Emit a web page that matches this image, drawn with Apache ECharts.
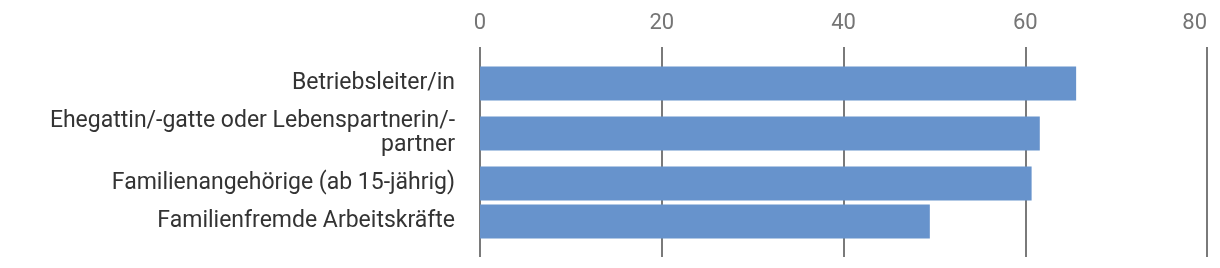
<!DOCTYPE html>
<html>
<head>
<meta charset="utf-8">
<script src="https://cdn.jsdelivr.net/npm/echarts@6/dist/echarts.min.js"></script>
<style>
html,body{margin:0;padding:0;background:#fff;}
#chart{width:1220px;height:268px;}
</style>
</head>
<body>
<div id="chart"></div>
<script>
// ---- data ----
const categories = [
  'Betriebsleiter/in',
  'Ehegattin/-gatte oder Lebenspartnerin/-\npartner',
  'Familienangehörige (ab 15-jährig)',
  'Familienfremde Arbeitskräfte'
];
const values = [65.6, 61.6, 60.7, 49.5];
const xTicks = [0, 20, 40, 60, 80];

// ---- layout: rows sized by the number of label lines (1 slot = 1 px) ----
const PAD = 17, ROW_BASE = 14, LINE_H = 24;
const slotLabel = {};
const slotValue = {};
let pos = PAD;
categories.forEach(function (cat, i) {
  const lines = cat.split('\n').length;
  const h = ROW_BASE + LINE_H * lines;
  const idx = Math.floor(pos + h / 2);
  slotLabel[idx] = cat;
  slotValue[idx] = values[i];
  pos += h;
});
const total = pos + PAD;
const slots = [];
const seriesData = [];
for (let k = 0; k < total; k++) {
  slots.push('s' + k);
  seriesData.push(slotValue[k] !== undefined ? slotValue[k] : '-');
}

const chart = echarts.init(document.getElementById('chart'), null, {renderer: 'canvas'});
chart.setOption({
  animation: false,
  textStyle: {fontFamily: 'Roboto'},
  grid: {left: 480, right: 13, top: 47, bottom: 11, containLabel: false},
  xAxis: {
    type: 'value',
    position: 'top',
    min: xTicks[0],
    max: xTicks[xTicks.length - 1],
    interval: xTicks[1] - xTicks[0],
    axisLine: {show: false},
    axisTick: {show: false},
    axisLabel: {
      color: '#757575',
      fontSize: 22,
      fontFamily: 'Roboto',
      margin: 13,
      alignMaxLabel: 'right'
    },
    splitLine: {show: true, lineStyle: {color: '#7a7a7a', width: 2}}
  },
  yAxis: {
    type: 'category',
    inverse: true,
    data: slots,
    axisLine: {show: false},
    axisTick: {show: false},
    splitLine: {show: false},
    axisLabel: {
      interval: function (index) { return slotLabel[index] !== undefined; },
      formatter: function (v, index) { return slotLabel[index] || ''; },
      color: '#333333',
      fontSize: 23,
      lineHeight: 24,
      fontFamily: 'Roboto',
      align: 'right',
      margin: 25
    }
  },
  series: [{
    type: 'bar',
    data: seriesData,
    barWidth: 34,
    itemStyle: {color: '#6793cc'},
    z: 3
  }]
});
</script>
</body>
</html>
